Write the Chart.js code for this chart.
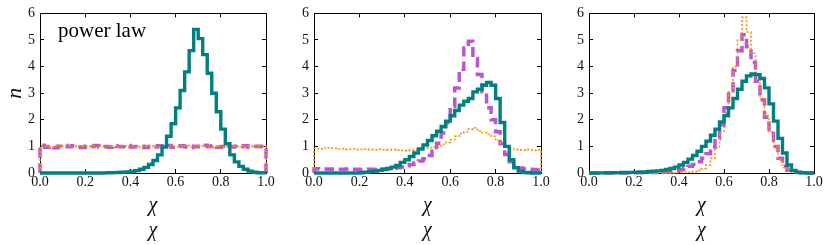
<!DOCTYPE html>
<html>
<head>
<meta charset="utf-8">
<script src="https://cdn.jsdelivr.net/npm/chart.js@4.4.1/dist/chart.umd.min.js"></script>
<style>
  html, body { margin: 0; padding: 0; background: #fff; }
  #wrap { position: relative; width: 830px; height: 245px; overflow: hidden; }
  canvas { position: absolute; top: -4px; }
</style>
</head>
<body>
<div id="wrap">
  <canvas id="c1" width="280" height="249" style="left:0px"></canvas>
  <canvas id="c2" width="275" height="249" style="left:280px"></canvas>
  <canvas id="c3" width="275" height="249" style="left:555px"></canvas>
</div>
<script>
// 50 bins of width 0.02 on chi in [0, 1]
const binEdges = Array.from({ length: 51 }, (_, i) => i / 50);

// panel 1 ("power law")
const p1Teal = [0, 0, 0, 0, 0, 0, 0, 0, 0, 0, 0, 0, 0, 0, 0.005, 0.01, 0.015, 0.02, 0.03, 0.04,
  0.06, 0.09, 0.14, 0.21, 0.32, 0.47, 0.68, 0.98, 1.38, 1.85, 2.45, 3.1, 3.8, 4.6, 5.4,
  5.05, 4.45, 3.75, 3.0, 2.3, 1.65, 1.1, 0.68, 0.42, 0.25, 0.14, 0.07, 0.03, 0.01, 0.003];
const p1Purple = [1.04, 0.97, 1.0, 0.95, 1.01, 1.03, 0.99, 1.02, 0.98, 0.96, 1.01, 1.0, 1.03, 0.98, 1.0,
  0.97, 1.02, 1.0, 0.99, 1.03, 0.98, 1.0, 1.01, 0.96, 1.0, 0.98, 1.02, 0.99, 1.03, 0.97,
  1.0, 1.02, 0.98, 0.96, 1.01, 0.99, 1.04, 1.0, 1.02, 0.97, 1.0, 1.03, 0.98, 1.01, 0.99,
  1.02, 0.97, 1.0, 1.01, 0.99];
const p1Orange = [1.02, 1.0, 0.98, 1.01, 0.99, 1.03, 1.0, 0.97, 1.02, 1.0, 0.99, 1.01, 0.98, 1.02, 1.0,
  1.01, 0.98, 1.0, 1.02, 0.99, 1.0, 0.97, 1.01, 1.0, 1.03, 0.99, 1.0, 0.98, 1.02, 1.0,
  0.99, 1.01, 1.03, 0.98, 1.0, 1.02, 0.99, 1.0, 0.97, 1.01, 1.0, 0.99, 1.02, 1.0, 0.98,
  1.01, 1.0, 0.99, 1.02, 1.0];

// panel 2
const p2Teal = [0, 0, 0, 0, 0, 0, 0, 0, 0, 0, 0.01, 0.03, 0.05, 0.07, 0.1, 0.13, 0.17, 0.22, 0.28, 0.4,
  0.5, 0.62, 0.75, 0.9, 1.05, 1.22, 1.4, 1.57, 1.75, 1.95, 2.15, 2.35, 2.55, 2.7, 2.8,
  3.05, 3.15, 3.3, 3.4, 3.3, 2.8, 1.9, 1.0, 0.5, 0.2, 0.07, 0.02, 0.01, 0, 0];
const p2Purple = [0.16, 0.15, 0.15, 0.14, 0.15, 0.14, 0.14, 0.15, 0.13, 0.14, 0.13, 0.13, 0.14, 0.13, 0.14,
  0.15, 0.16, 0.18, 0.2, 0.23, 0.27, 0.32, 0.38, 0.45, 0.54, 0.66, 0.82, 1.12, 1.5, 1.9,
  2.5, 3.2, 3.9, 4.7, 4.95, 4.3, 3.7, 3.05, 2.45, 2.0, 1.55, 1.1, 0.7, 0.42, 0.26,
  0.19, 0.15, 0.14, 0.13, 0.11];
const p2Orange = [0.92, 0.9, 0.93, 0.95, 0.92, 0.9, 0.91, 0.89, 0.9, 0.88, 0.89, 0.9, 0.88, 0.87, 0.89,
  0.88, 0.87, 0.88, 0.86, 0.85, 0.84, 0.86, 0.88, 0.92, 0.92, 0.95, 0.98, 1.0, 1.08, 1.15,
  1.25, 1.38, 1.48, 1.55, 1.65, 1.7, 1.58, 1.52, 1.45, 1.38, 1.22, 1.12, 0.98, 0.92, 0.88,
  0.87, 0.86, 0.88, 0.85, 0.87];

// panel 3
const p3Teal = [0, 0, 0.005, 0.005, 0.01, 0.01, 0.015, 0.02, 0.02, 0.025, 0.03, 0.035, 0.04, 0.06, 0.07,
  0.08, 0.1, 0.13, 0.17, 0.22, 0.3, 0.4, 0.52, 0.66, 0.82, 1.0, 1.2, 1.42, 1.65, 1.92,
  2.15, 2.45, 2.8, 3.15, 3.45, 3.65, 3.72, 3.7, 3.55, 3.2, 2.6, 1.95, 1.3, 0.75, 0.3,
  0.1, 0.03, 0.01, 0, 0];
const p3Purple = [0, 0, 0, 0, 0, 0, 0, 0, 0, 0.005, 0.005, 0.01, 0.01, 0.015, 0.02,
  0.025, 0.03, 0.04, 0.06, 0.08, 0.12, 0.18, 0.25, 0.32, 0.42, 0.55, 0.72, 0.98, 1.3, 1.8,
  2.45, 3.1, 3.85, 4.6, 5.2, 4.75, 4.15, 3.45, 2.75, 2.1, 1.55, 1.0, 0.55, 0.25, 0.1,
  0.04, 0.015, 0.005, 0, 0];
const p3Orange = [0, 0, 0, 0, 0, 0, 0, 0, 0, 0, 0, 0, 0, 0, 0,
  0, 0, 0.005, 0.005, 0.01, 0.01, 0.02, 0.03, 0.06, 0.1, 0.17, 0.3, 0.55, 0.95, 1.55,
  2.25, 3.05, 4.0, 5.0, 5.85, 5.3, 4.5, 3.6, 2.8, 2.15, 1.55, 1.0, 0.5, 0.2, 0.07,
  0.02, 0, 0, 0, 0];

const yTicks = [0, 1, 2, 3, 4, 5, 6];
const xTicks = [0, 0.2, 0.4, 0.6, 0.8, 1.0];

const SERIF = "'Liberation Serif', 'DejaVu Serif', serif";
Chart.defaults.font.family = SERIF;
Chart.defaults.color = '#111';

// histogram outline (histtype='step')
function stepPoints(values) {
  const pts = [{ x: binEdges[0], y: 0 }];
  values.forEach((v, i) => pts.push({ x: binEdges[i], y: v }));
  pts.push({ x: binEdges[50], y: values[values.length - 1] });
  pts.push({ x: binEdges[50], y: 0 });
  return pts;
}

function line(values, color, width, dash) {
  return {
    data: stepPoints(values),
    borderColor: color,
    borderWidth: width,
    borderDash: dash,
    borderJoinStyle: 'miter',
    stepped: 'before',
    pointRadius: 0,
    fill: false,
    clip: false,
  };
}

const textPlugin = {
  id: 'panelText',
  afterDraw(chart, args, opts) {
    if (!opts.text) return;
    const { ctx, chartArea } = chart;
    ctx.save();
    ctx.font = `21px ${SERIF}`;
    ctx.fillStyle = '#000';
    ctx.textBaseline = 'alphabetic';
    ctx.fillText(opts.text, chartArea.left + 18, chartArea.top + 24);
    ctx.restore();
  }
};

function makeChart(id, teal, purple, orange, opts) {
  const tickOpts = { display: false, font: { family: SERIF, size: 14 } };
  new Chart(document.getElementById(id), {
    type: 'line',
    data: {
      datasets: [
        line(teal, '#008080', 3.4, []),
        line(orange, '#ff8c00', 1.6, [2, 2]),
        line(purple, '#ba55d3', 3.5, [10, 5]),
      ]
    },
    options: {
      responsive: false,
      animation: false,
      events: [],
      layout: { autoPadding: false, padding: { left: 0, right: opts.right, top: 12, bottom: 0 } },
      plugins: {
        legend: { display: false },
        tooltip: { enabled: false },
        panelText: { text: opts.text },
      },
      scales: {
        x: {
          type: 'linear', position: 'bottom', min: 0, max: 1,
          afterBuildTicks: s => { s.ticks = xTicks.map(v => ({ value: v })); },
          ticks: { color: '#111', padding: 5, font: { family: SERIF, size: 14 },
                   maxRotation: 0, callback: v => v.toFixed(1) },
          grid: { drawOnChartArea: false, tickLength: -4, color: '#000' },
          border: { display: true, color: '#000', width: 1 },
          title: { display: true, text: ['\u03c7', '\u03c7'], color: '#111',
                   font: { family: SERIF, size: 20, style: 'italic', lineHeight: 1.25 },
                   padding: { top: 0, bottom: 2 } },
          afterFit: s => { s.height = 72; },
        },
        y: {
          type: 'linear', position: 'left', min: 0, max: 6,
          afterBuildTicks: s => { s.ticks = yTicks.map(v => ({ value: v })); },
          ticks: { color: '#111', padding: 9, font: { family: SERIF, size: 14 } },
          grid: { drawOnChartArea: false, tickLength: -4, color: '#000' },
          border: { display: true, color: '#000', width: 1 },
          title: { display: !!opts.ylabel, text: opts.ylabel || '', color: '#111',
                   font: { family: SERIF, size: 22, style: 'italic', lineHeight: 1.2 },
                   padding: { top: 2, bottom: 0 } },
          afterFit: s => { s.width = opts.left; },
        },
        x2: {
          type: 'linear', position: 'top', min: 0, max: 1,
          afterBuildTicks: s => { s.ticks = xTicks.map(v => ({ value: v })); },
          ticks: tickOpts,
          grid: { drawOnChartArea: false, tickLength: -4, color: '#000' },
          border: { display: true, color: '#000', width: 1 },
          afterFit: s => { s.height = 0; },
        },
        y2: {
          type: 'linear', position: 'right', min: 0, max: 6,
          afterBuildTicks: s => { s.ticks = yTicks.map(v => ({ value: v })); },
          ticks: tickOpts,
          grid: { drawOnChartArea: false, tickLength: -4, color: '#000' },
          border: { display: true, color: '#000', width: 1 },
          afterFit: s => { s.width = 0; },
        },
      }
    },
    plugins: [textPlugin]
  });
}

makeChart('c1', p1Teal, p1Purple, p1Orange, { left: 40, right: 14, ylabel: 'n', text: 'power law' });
makeChart('c2', p2Teal, p2Purple, p2Orange, { left: 34, right: 14 });
makeChart('c3', p3Teal, p3Purple, p3Orange, { left: 34, right: 16 });
</script>
</body>
</html>
